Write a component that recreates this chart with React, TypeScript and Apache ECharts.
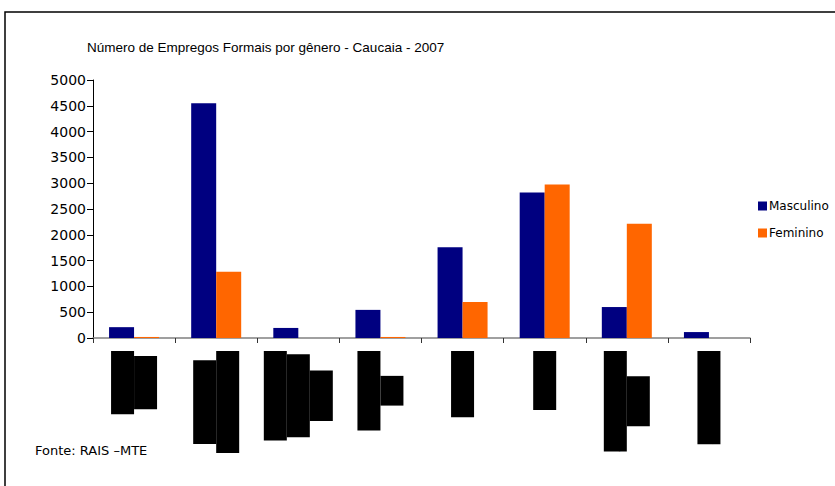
import React, { useEffect, useRef } from "react";
import * as echarts from "echarts";

const categories: string[][] = [
  ["Extrativa", "mineral"],
  ["Indústria de", "transformação"],
  ["Serviços ind.", "de utilidade", "pública"],
  ["Construção", "Civil"],
  ["Comércio"],
  ["Serviços"],
  ["Administração", "Pública"],
  ["Agropecuária"],
];
const masculino = [210, 4550, 195, 545, 1760, 2820, 600, 115];
const feminino = [20, 1285, 0, 20, 700, 2975, 2215, 0];
const yTicks = { min: 0, max: 5000, interval: 500 };
const titleText = "Número de Empregos Formais por gênero - Caucaia - 2007";
const sourceText = "Fonte: RAIS –MTE";

export default function App() {
  const ref = useRef<HTMLDivElement>(null);
  useEffect(() => {
    if (!ref.current) return;
    const chart = echarts.init(ref.current, null, { renderer: "svg" });
    chart.setOption({
      animation: false,
      backgroundColor: "#ffffff",
      title: {
        text: titleText,
        left: 82,
        top: 35,
        textStyle: {
          fontFamily: "Liberation Sans",
          fontSize: 13.5,
          fontWeight: "normal",
          color: "#000",
        },
      },
      legend: {
        orient: "vertical",
        left: 753,
        top: 195,
        itemWidth: 9,
        itemHeight: 9,
        itemGap: 15,
        icon: "rect",
        textStyle: { fontFamily: "DejaVu Sans", fontSize: 12, color: "#000", padding: [0, 0, 0, -3] },
        data: ["Masculino", "Feminino"],
      },
      grid: { left: 93, right: 85, top: 80, bottom: 148, containLabel: false },
      xAxis: {
        type: "category",
        data: categories.map((c) => c.join("\n")),
        axisLine: { lineStyle: { color: "#808080", width: 1.5 } },
        axisTick: { show: true, length: 5, lineStyle: { color: "#333" } },
        axisLabel: {
          interval: 0,
          rotate: 90,
          margin: 13,
          formatter: (v: string) => v.split("\n").map((l) => "{a|" + l + "}").join("\n"),
          rich: {
            a: {
              fontFamily: "DejaVu Sans",
              fontSize: 14,
              color: "#000",
              backgroundColor: "#000",
              align: "center",
              lineHeight: 23,
              padding: [4, 0, 5, 0],
            },
          },
        },
      },
      yAxis: {
        type: "value",
        min: yTicks.min,
        max: yTicks.max,
        interval: yTicks.interval,
        splitLine: { show: false },
        axisLine: { show: true, lineStyle: { color: "#000" } },
        axisTick: { show: true, length: 6, lineStyle: { color: "#000" } },
        axisLabel: {
          fontFamily: "DejaVu Sans",
          fontSize: 14,
          color: "#000",
          margin: 7,
          formatter: (v: number) => String(v),
        },
      },
      series: [
        {
          name: "Masculino",
          type: "bar",
          data: masculino,
          barWidth: 25,
          barGap: "0%",
          itemStyle: { color: "#000080" },
        },
        {
          name: "Feminino",
          type: "bar",
          data: feminino,
          barWidth: 25,
          barGap: "0%",
          itemStyle: { color: "#FF6600" },
        },
      ],
      graphic: [
        {
          type: "rect",
          shape: { x: 5, y: 12, width: 900, height: 600 },
          style: { fill: "none", stroke: "#000", lineWidth: 1.5 },
          silent: true,
        },
        {
          type: "text",
          left: 35,
          top: 444,
          style: { text: sourceText, fontFamily: "DejaVu Sans", fontSize: 13, fill: "#000" },
        },
      ],
    });
    return () => chart.dispose();
  }, []);
  return (
    <div
      ref={ref}
      style={{ position: "fixed", left: 0, top: 0, width: 835, height: 486 }}
    />
  );
}
